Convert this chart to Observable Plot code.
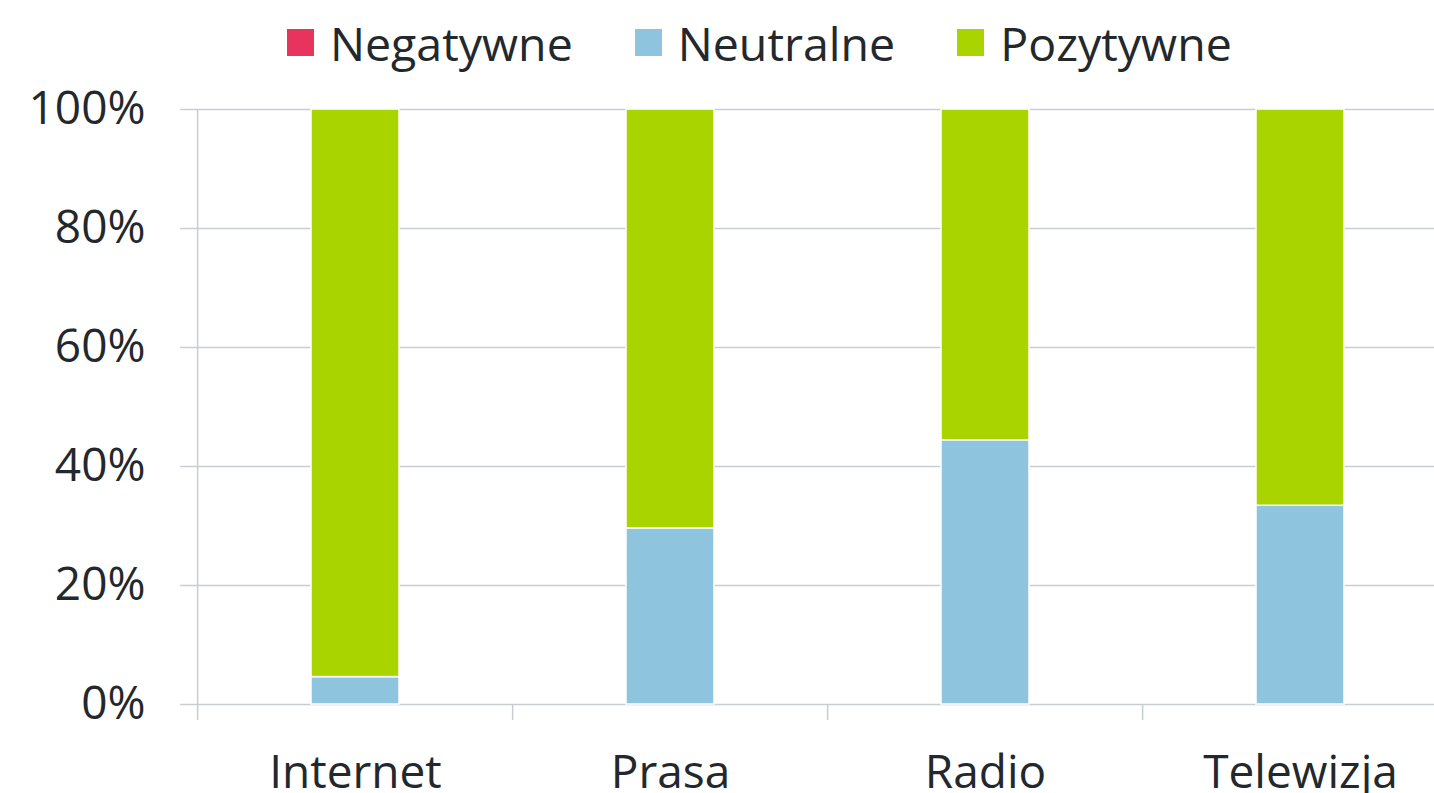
<!DOCTYPE html>
<html>
<head>
<meta charset="utf-8">
<script src="https://cdn.jsdelivr.net/npm/d3@7"></script>
<script src="https://cdn.jsdelivr.net/npm/@observablehq/plot@0.6"></script>
<style>
  html, body { margin: 0; padding: 0; background: #fff; overflow: hidden; width: 1434px; height: 793px; }
  #legend { height: 80px; box-sizing: border-box; padding-top: 5px; padding-left: 287px; display: flex; align-items: center; font-family: "Open Sans", sans-serif; font-size: 46.5px; line-height: 46px; color: #23282c; }
  #legend .item { display: flex; align-items: center; margin-right: 62px; }
  #legend .sw { width: 27px; height: 27px; margin-right: 16px; }
  #chart svg { display: block; }
</style>
</head>
<body>
<div id="legend"></div>
<div id="chart"></div>
<script>
const categories = ["Internet", "Prasa", "Radio", "Telewizja"];
const seriesNames = ["Negatywne", "Neutralne", "Pozytywne"];
const seriesColors = ["#e8335f", "#8fc4df", "#aad400"];
const negatywne = [0, 0, 0, 0];
const neutralne = [4.6, 29.6, 44.4, 33.4];
const pozytywne = [95.4, 70.4, 55.6, 66.6];
const yTicks = [0, 20, 40, 60, 80, 100];

const seriesValues = [negatywne, neutralne, pozytywne];
const data = [];
seriesNames.forEach((s, i) => categories.forEach((c, j) => data.push({category: c, series: s, value: seriesValues[i][j]})));

// legend
const legend = document.getElementById("legend");
seriesNames.forEach((s, i) => {
  const item = document.createElement("div");
  item.className = "item";
  const sw = document.createElement("div");
  sw.className = "sw";
  sw.style.background = seriesColors[i];
  const t = document.createElement("span");
  t.textContent = s;
  item.appendChild(sw); item.appendChild(t);
  legend.appendChild(item);
});

const width = 1434, marginLeft = 196, marginRight = -25;
const step = (width - marginLeft - marginRight) / categories.length;
const gridColor = "#c8cdd2";

const chart = Plot.plot({
  width,
  height: 713,
  marginLeft,
  marginRight,
  marginTop: 29,
  marginBottom: 89,
  style: {fontFamily: "Open Sans, sans-serif", fontSize: "46px", color: "#23282c", background: "white"},
  x: {domain: categories, paddingInner: 0.72, paddingOuter: 0.36, axis: null},
  y: {domain: [0, 100], axis: null},
  color: {domain: seriesNames, range: seriesColors},
  marks: [
    Plot.gridY(yTicks, {stroke: gridColor, strokeOpacity: 1, strokeWidth: 1.5}),
    Plot.ruleX([categories[0]], {x: d => d, dx: -step / 2, stroke: gridColor, strokeWidth: 1.5}),
    Plot.barY(data.filter(d => d.value > 0), Plot.stackY({x: "category", y: "value", fill: "series", order: seriesNames, stroke: "white", strokeWidth: 1.5})),
    Plot.axisY({ticks: yTicks, tickSize: 16, tickPadding: 35, tickFormat: d => d + "%", stroke: gridColor, strokeWidth: 1.5, fill: "#23282c", label: null}),
    Plot.axisX({tickSize: 16, tickFormat: () => "", dx: -step / 2, stroke: gridColor, strokeWidth: 1.5, label: null}),
    Plot.axisX({tickSize: 0, tickPadding: 51, fill: "#23282c", label: null})
  ]
});
document.getElementById("chart").appendChild(chart);
</script>
</body>
</html>
